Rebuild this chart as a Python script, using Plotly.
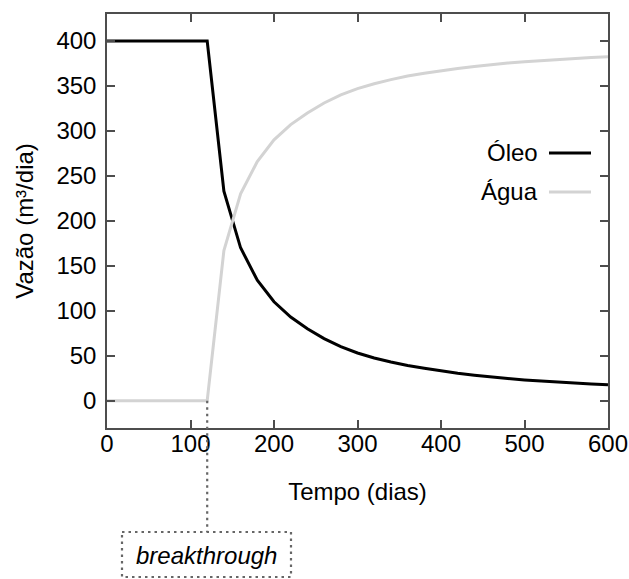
import plotly.graph_objects as go

# ---- data ----
tempo = [0, 120, 140, 160, 180, 200, 220, 240, 260, 280, 300, 320, 340, 360, 380,
         400, 420, 440, 460, 480, 500, 520, 540, 560, 580, 600]
oleo = [400, 400, 233, 170, 134, 110, 93, 80, 69, 60, 53, 47.5, 43, 39, 36,
        33, 30.5, 28.3, 26.2, 24.6, 23.1, 21.8, 20.6, 19.5, 18.5, 17.6]
agua = [0, 0, 167, 230, 266, 290, 307, 320, 331, 340, 347, 352.5, 357, 361, 364,
        367, 369.5, 371.7, 373.8, 375.4, 376.9, 378.2, 379.4, 380.5, 381.5, 382.4]
breakthrough_t = 120
x_ticks = [0, 100, 200, 300, 400, 500, 600]
y_ticks = [0, 50, 100, 150, 200, 250, 300, 350, 400]
x_range = [0, 600]
y_range = [-30.4, 430]

FONT = "Liberation Sans, Arial, Helvetica, sans-serif"
FS = 24
AX = "#4d4d4d"

fig = go.Figure()
fig.add_trace(go.Scatter(x=tempo, y=oleo, mode="lines", name="Óleo",
                         line=dict(color="black", width=3)))
fig.add_trace(go.Scatter(x=tempo, y=agua, mode="lines", name="Água",
                         line=dict(color="#d3d3d3", width=3)))

axis_common = dict(showgrid=False, zeroline=False, showline=True, linecolor=AX,
                   linewidth=1.5, mirror="ticks", ticks="inside", ticklen=8,
                   tickwidth=1.5, tickcolor=AX, automargin=False,
                   tickfont=dict(family=FONT, size=FS, color="black"))

fig.update_xaxes(range=x_range, tickvals=x_ticks, ticklabelstandoff=-7,
                 title=dict(text="Tempo (dias)", standoff=28,
                            font=dict(family=FONT, size=FS, color="black")),
                 **axis_common)
fig.update_yaxes(range=y_range, tickvals=y_ticks, ticklabelstandoff=4,
                 title=dict(text="Vazão (m³/dia)", standoff=16,
                            font=dict(family=FONT, size=FS, color="black")),
                 **axis_common)

W, H = 629, 579
L, R, T, B = 107, 21, 14, 151
pw, ph = W - L - R, H - T - B

def px(xp):
    return (xp - L) / pw

def py(yp):
    return (H - B - yp) / ph

# legend drawn manually (text left of the line sample)
legend_items = [("Óleo", "black", 152), ("Água", "#d3d3d3", 191)]
annotations = []
shapes = []
for name, col, yy in legend_items:
    annotations.append(dict(text=name, x=px(540), y=py(yy), xref="paper", yref="paper",
                            xanchor="right", yanchor="middle", showarrow=False,
                            font=dict(family=FONT, size=FS, color="black")))
    shapes.append(dict(type="line", xref="paper", yref="paper",
                       x0=px(549), x1=px(591), y0=py(yy + 1), y1=py(yy + 1),
                       line=dict(color=col, width=3)))

# breakthrough marker
bx = (breakthrough_t - x_range[0]) / (x_range[1] - x_range[0])
y0_paper = (0 - y_range[0]) / (y_range[1] - y_range[0])
shapes.append(dict(type="line", xref="paper", yref="paper",
                   x0=bx, x1=bx, y0=y0_paper, y1=py(532),
                   line=dict(color="#666666", width=2.2, dash="2.5px,4px")))
shapes.append(dict(type="rect", xref="paper", yref="paper",
                   x0=px(122), x1=px(291), y0=py(532), y1=py(577),
                   line=dict(color="#666666", width=2.2, dash="2.5px,4px")))
annotations.append(dict(text="<i>breakthrough</i>", x=px(206), y=py(555),
                        xref="paper", yref="paper", xanchor="center", yanchor="middle",
                        showarrow=False, font=dict(family=FONT, size=FS, color="black")))

fig.update_layout(width=W, height=H, margin=dict(l=L, r=R, t=T, b=B),
                  plot_bgcolor="white", paper_bgcolor="white", showlegend=False,
                  annotations=annotations, shapes=shapes)

fig.write_html("out.html")
